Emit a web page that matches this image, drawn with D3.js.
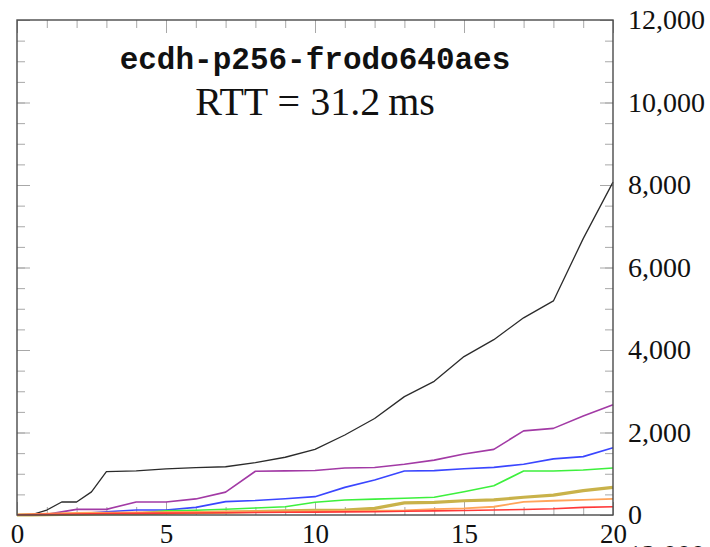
<!DOCTYPE html>
<html>
<head>
<meta charset="utf-8">
<script src="https://cdn.jsdelivr.net/npm/d3@7"></script>
<style>
  html, body { margin: 0; padding: 0; background: #fff; }
  svg { display: block; }
</style>
</head>
<body>
<div id="chart"></div>
<script>
// loss rate values on the x axis
const xValues = [0, 0.5, 1, 1.5, 2, 2.5, 3, 4, 5, 6, 7, 8, 9, 10, 11, 12, 13, 14, 15, 16, 17, 18, 19, 20];

const seriesBlack = [0, 10, 120, 315, 315, 560, 1050, 1070, 1120, 1150, 1170, 1270, 1400, 1590, 1940, 2340, 2870, 3240, 3840, 4250, 4780, 5190, 6700, 8070];
const seriesPurple = [0, 0, 15, 75, 137, 137, 137, 315, 315, 390, 555, 1060, 1070, 1080, 1140, 1150, 1230, 1330, 1480, 1590, 2040, 2100, 2400, 2670];
const seriesBlue = [0, 0, 0, 5, 30, 55, 80, 120, 120, 185, 325, 350, 395, 445, 670, 850, 1065, 1075, 1120, 1155, 1230, 1360, 1415, 1630];
const seriesGreen = [0, 0, 5, 10, 15, 20, 25, 40, 100, 115, 140, 170, 200, 310, 365, 385, 405, 430, 565, 710, 1065, 1065, 1090, 1140];
const seriesOlive = [0, 5, 10, 15, 20, 25, 30, 35, 45, 55, 70, 85, 100, 110, 120, 160, 295, 305, 345, 365, 430, 480, 590, 670];
const seriesOrange = [10, 20, 30, 40, 50, 55, 60, 65, 70, 75, 80, 85, 90, 95, 100, 105, 110, 140, 160, 200, 320, 345, 365, 390];
const seriesRed = [5, 10, 15, 20, 25, 30, 35, 40, 45, 50, 55, 60, 65, 70, 75, 80, 90, 100, 110, 120, 135, 150, 185, 200];

const xTickLabels = [0, 5, 10, 15, 20];
const yTickLabels = [0, 2000, 4000, 6000, 8000, 10000, 12000];

const titleText = "ecdh-p256-frodo640aes";
const subtitleText = "RTT = 31.2\u2009ms";

const lines = [
  { values: seriesBlack, color: "#2b2b2b", width: 1.3 },
  { values: seriesPurple, color: "#a23aa5", width: 1.6 },
  { values: seriesBlue, color: "#3a46ff", width: 1.6 },
  { values: seriesGreen, color: "#3df03d", width: 1.6 },
  { values: seriesOlive, color: "#c9b24a", width: 3.2 },
  { values: seriesOrange, color: "#ffa45a", width: 1.8 },
  { values: seriesRed, color: "#ff3838", width: 1.6 },
];

const margin = { top: 20, right: 97, bottom: 32, left: 17 };
const width = 710 - margin.left - margin.right;
const height = 547 - margin.top - margin.bottom;

const root = d3
  .select("#chart")
  .append("svg")
  .attr("width", 710)
  .attr("height", 547);

const svg = root
  .append("g")
  .attr("transform", `translate(${margin.left},${margin.top})`);

const x = d3.scaleLinear().domain([0, 20]).range([0, width]);
const y = d3.scaleLinear().domain([0, 12000]).range([height, 0]);

// inward ticks on all four sides, minor and major
function tickAxis(axisFn, scale, values, size, transform) {
  const g = svg
    .append("g")
    .attr("transform", transform)
    .call(axisFn(scale).tickValues(values).tickSize(-size).tickFormat(""));
  g.select(".domain").remove();
  g.selectAll("line").attr("stroke", "#a8a8a8").attr("stroke-width", 1);
}

const xMinor = d3.range(0, 21, 1);
const yMinor = d3.range(0, 12001, 500);
tickAxis(d3.axisBottom, x, xMinor, 8, `translate(0,${height})`);
tickAxis(d3.axisBottom, x, xTickLabels, 13, `translate(0,${height})`);
tickAxis(d3.axisTop, x, xMinor, 8, "translate(0,0)");
tickAxis(d3.axisTop, x, xTickLabels, 13, "translate(0,0)");
tickAxis(d3.axisLeft, y, yMinor, 8, "translate(0,0)");
tickAxis(d3.axisLeft, y, yTickLabels, 13, "translate(0,0)");
tickAxis(d3.axisRight, y, yMinor, 8, `translate(${width},0)`);
tickAxis(d3.axisRight, y, yTickLabels, 13, `translate(${width},0)`);

// Lines
const line = d3
  .line()
  .x((d, i) => x(xValues[i]))
  .y((d) => y(d));

lines.forEach((s) => {
  svg
    .append("path")
    .datum(s.values)
    .attr("fill", "none")
    .attr("stroke", s.color)
    .attr("stroke-width", s.width)
    .attr("stroke-linejoin", "round")
    .attr("d", line);
});

// Frame
svg
  .append("rect")
  .attr("width", width)
  .attr("height", height)
  .attr("fill", "none")
  .attr("stroke", "#4a4a4a")
  .attr("stroke-width", 1.4);

// Tick labels
const xLab = svg
  .append("g")
  .attr("transform", `translate(0,${height})`)
  .call(d3.axisBottom(x).tickValues(xTickLabels).tickSize(0).tickPadding(9).tickFormat(d3.format("d")));
xLab.select(".domain").remove();
xLab.selectAll("text")
  .attr("font-family", "'Liberation Serif', 'DejaVu Serif', serif")
  .attr("font-size", 27)
  .attr("fill", "#111");

const yLab = svg
  .append("g")
  .attr("transform", `translate(${width},0)`)
  .call(d3.axisRight(y).tickValues(yTickLabels).tickSize(0).tickPadding(15).tickFormat(d3.format(",")));
yLab.select(".domain").remove();
yLab.selectAll("text")
  .attr("font-family", "'Liberation Serif', 'DejaVu Serif', serif")
  .attr("font-size", 28)
  .attr("fill", "#111");

// Title
svg
  .append("text")
  .attr("x", x(10))
  .attr("y", 49)
  .attr("text-anchor", "middle")
  .attr("font-family", "'Liberation Mono', 'DejaVu Sans Mono', monospace")
  .attr("font-weight", "bold")
  .attr("font-size", 31)
  .attr("fill", "#111")
  .text(titleText);

svg
  .append("text")
  .attr("x", x(10))
  .attr("y", 95)
  .attr("text-anchor", "middle")
  .attr("font-family", "'Liberation Serif', 'DejaVu Serif', serif")
  .attr("font-size", 40)
  .attr("fill", "#111")
  .text(subtitleText);

// top label of the next chart, cut off by the bottom edge
root
  .append("text")
  .attr("x", 628)
  .attr("y", 564)
  .attr("font-family", "'Liberation Serif', 'DejaVu Serif', serif")
  .attr("font-size", 28)
  .attr("fill", "#111")
  .text(d3.format(",")(yTickLabels[6]));
</script>
</body>
</html>
